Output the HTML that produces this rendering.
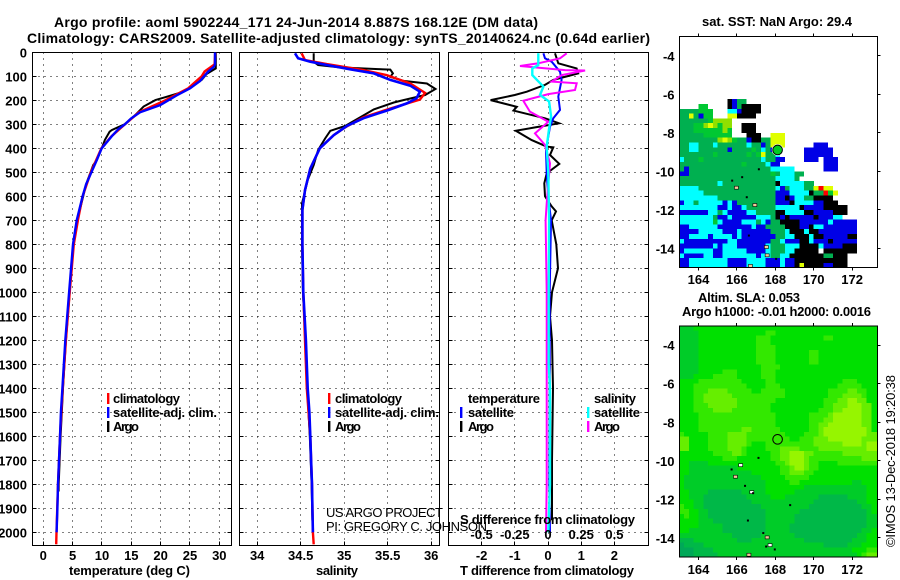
<!DOCTYPE html>
<html><head><meta charset="utf-8">
<style>
html,body{margin:0;padding:0;background:#fff}
svg{display:block}
text{font-family:"Liberation Sans",sans-serif;font-weight:bold;fill:#000}
.thin{font-weight:normal}
</style></head>
<body>
<svg id="fig" width="900" height="580" viewBox="0 0 900 580" xmlns="http://www.w3.org/2000/svg">
<rect width="900" height="580" fill="#fff"/>
<text x="54" y="27" font-size="14" textLength="484">Argo profile: aoml 5902244_171 24-Jun-2014 8.887S 168.12E (DM data)</text>
<text x="27" y="43" font-size="14" textLength="623">Climatology: CARS2009. Satellite-adjusted climatology: synTS_20140624.nc (0.64d earlier)</text>
<g id="plots"></g>
<g id="maps"></g>

<text x="69" y="575" font-size="13" textLength="121">temperature (deg C)</text>
<text x="316" y="575" font-size="13" textLength="42">salinity</text>
<text x="460" y="575" font-size="13" textLength="174">T difference from climatology</text>
<text x="460" y="524" font-size="13" textLength="175">S difference from climatology</text>

<g>
<rect x="107" y="393" width="2.4" height="11" fill="#f00"/>
<rect x="107" y="407" width="2.4" height="11" fill="#00f"/>
<rect x="107" y="421" width="2.4" height="11" fill="#000"/>
<text x="113" y="403" font-size="13" textLength="67">climatology</text>
<text x="113" y="417" font-size="13" textLength="104">satellite-adj. clim.</text>
<text x="113" y="431" font-size="13" textLength="26">Argo</text>
</g>
<g>
<rect x="328" y="393" width="2.4" height="11" fill="#f00"/>
<rect x="328" y="407" width="2.4" height="11" fill="#00f"/>
<rect x="328" y="421" width="2.4" height="11" fill="#000"/>
<text x="335" y="403" font-size="13" textLength="67">climatology</text>
<text x="335" y="417" font-size="13" textLength="104">satellite-adj. clim.</text>
<text x="335" y="431" font-size="13" textLength="26">Argo</text>
</g>
<g>
<text x="468" y="403" font-size="13" textLength="72">temperature</text>
<rect x="460" y="407" width="2.4" height="11" fill="#00f"/>
<text x="468" y="417" font-size="13" textLength="46">satellite</text>
<rect x="460" y="421" width="2.4" height="11" fill="#000"/>
<text x="468" y="431" font-size="13" textLength="26">Argo</text>
<text x="594" y="403" font-size="13" textLength="42">salinity</text>
<rect x="587" y="407" width="2.4" height="11" fill="#0ff"/>
<text x="594" y="417" font-size="13" textLength="46">satellite</text>
<rect x="587" y="421" width="2.4" height="11" fill="#f0f"/>
<text x="594" y="431" font-size="13" textLength="26">Argo</text>
</g>

<text class="thin" x="326" y="517" font-size="13" textLength="117">US ARGO PROJECT</text>
<text class="thin" x="326" y="531" font-size="13" textLength="161">PI: GREGORY C. JOHNSON</text>

<text x="702" y="26" font-size="13" textLength="150">sat. SST: NaN Argo: 29.4</text>
<text x="698" y="302" font-size="13" textLength="102">Altim. SLA: 0.053</text>
<text x="682" y="316" font-size="13" textLength="189">Argo h1000: -0.01 h2000: 0.0016</text>
<text class="thin" transform="translate(895,547) rotate(-90)" font-size="13" textLength="172">©IMOS 13-Dec-2018 19:20:38</text>
</svg>

<script>
// ---------- profile data (depth in m) ----------
const tempTicks = [0, 5, 10, 15, 20, 25, 30];
const salTicks = [34, 34.5, 35, 35.5, 36];
const salTickLabels = ['34', '34.5', '35', '35.5', '36'];
const diffTicks = [-2, -1, 0, 1, 2];
const sDiffTicks = [-0.5, -0.25, 0, 0.25, 0.5];
const sDiffTickLabels = ['-0.5', '-0.25', '0', '0.25', '0.5'];
const depthTicks = [0,100,200,300,400,500,600,700,800,900,1000,1100,1200,1300,1400,1500,1600,1700,1800,1900,2000];

const climTempDepth = [0,50,80,100,150,200,250,300,350,400,500,600,700,800,1000,1200,1400,1600,1800,2000,2050];
const climTemp = [29.3,29.2,27.5,27,24.7,20.8,16.3,13.9,11.6,9.9,8.1,6.7,5.9,5.2,4.5,3.85,3.3,2.85,2.5,2.25,2.2];
const satTempDepth = [0,50,60,80,100,120,150,180,200,220,250,275,300,320,350,400,450,500,550,600,700,800,1000,1200,1400,1500,1600,1700,1800,1900,2000];
const satTemp = [29.26,29.26,29.1,28.1,27.4,26.7,25,22.7,21.3,19.9,16.5,15,13.9,12.8,11.65,9.95,9.1,8.2,7.3,6.7,5.7,5.06,4.4,3.75,3.25,3,2.85,2.67,2.5,2.4,2.27];
const argoTempDepth = [0,67,90,115,143,164,189,199,226,261,299,324,331,365,400,450,470,550,600,700,800,1000,1200,1400,1600,1800,1830];
const argoTemp = [29.4,29.4,27.85,27,25.3,23.9,20.5,19.1,17.1,15.7,13.9,11.65,11.3,10.5,9.95,9.1,8.5,7.3,6.8,5.8,5.15,4.5,3.85,3.35,2.95,2.62,2.6];

const climSalDepth = [4,32,49,74,95,130,169,197,234,271,313,345,400,484,574,657,700,800,1000,1200,1400,1600,1800,2000,2050];
const climSal = [34.51,34.55,34.8,35.22,35.49,35.76,35.93,35.87,35.53,35.22,35.01,34.88,34.72,34.61,34.55,34.52,34.52,34.52,34.53,34.55,34.57,34.61,34.63,34.64,34.65];
const satSalDepth = [4,25,39,53,71,88,115,139,164,192,213,243,275,307,345,400,484,574,657,700,800,1000,1200,1400,1500,1600,1700,1800,1900,2000];
const satSal = [34.435,34.47,34.61,34.8,35.07,35.34,35.53,35.76,35.87,35.83,35.72,35.49,35.22,35.03,34.88,34.72,34.61,34.55,34.52,34.52,34.52,34.53,34.56,34.58,34.6,34.61,34.62,34.63,34.634,34.64];
const argoSalDepth = [4,39,53,63,70,72,88,102,119,130,153,178,199,209,238,280,307,327,359,407,470,532,630,700,800,1000,1200,1400,1600,1800,1950];
const argoSal = [34.65,34.65,34.7,34.95,35.39,35.53,35.56,35.53,35.68,35.95,36.05,35.93,35.68,35.57,35.34,35.14,35.01,34.84,34.78,34.7,34.65,34.58,34.515,34.515,34.515,34.525,34.555,34.575,34.605,34.625,34.635];

const satDiffTDepth = [4,25,39,81,115,185,240,275,310,407,504,600,700,1000,1400,1800,2000];
const satDiffT = [-0.14,-0.09,0.11,0.36,0.41,0.31,0.36,0.16,0.06,-0.06,-0.04,0.01,0.09,0.05,0.05,0.04,0.06];
const argoDiffTDepth = [4,46,67,88,115,136,164,178,199,227,243,275,296,313,327,366,393,396,428,465,504,546,600,642,663,700,800,900,1000,1100,1200,1400,1700,1950];
const argoDiffT = [0.21,0.31,0.86,0.91,0.16,-0.09,-0.64,-1,-1.73,-0.94,-1.04,-0.09,0.33,-0.39,-0.97,-0.49,-0.04,0.16,0.06,0.34,-0.04,-0.11,-0.09,0.11,0.24,0.11,0.25,0.3,0.12,0.06,0.12,0.15,0.12,0.12];
const argoDiffSDepth = [4,25,46,57,74,76,95,122,129,157,174,202,247,289,338,386,463,629,700,1000,1400,1800,2000];
const argoDiffS = [0.141,0.09,-0.073,-0.211,0.128,0.279,0.103,0.028,0.216,0.203,0.0025,-0.186,-0.136,0.0025,-0.098,-0.023,0.015,-0.01,-0.018,-0.01,-0.01,-0.01,-0.015];
const satDiffSDepth = [4,53,67,95,143,178,205,268,317,393,504,700,1000,1300,1400,1800,2000];
const satDiffS = [-0.073,-0.073,-0.118,-0.118,-0.035,-0.06,0.008,0.023,0.008,-0.01,0.0025,0.008,0.005,0.005,0.015,0.015,0.0025];

// ---------- map data ----------
const lonTicks = [164, 166, 168, 170, 172];
const latTicks = [-4, -6, -8, -10, -12, -14];
const floatLon = 168.12;
const floatLat = -8.887;
// one string per 0.25-degree latitude row, north to south; one character per 0.25-degree column
const sstRows = [
"","","","","","","","","","","","","",
"          kbtt",
"    gg    kbtkkkk",
"ttttggg   ccbkkkk",
"ttytbgg   yykkkk",
"ttttttgaaaa",
"tttggayagaa  kkk",
"tttggggggag  kkk",
"tttttgggggg   kkk  yyy",
"ttttttttayagttbkkttyyy",
"ttcctttcttttttcttbtyyy      bbb",
"ttccttttttbttttgtctbc     bbbbbb",
"tttttttgttttttgtgyttc     bbbbbb",
"ctttgttttttttttttcttbb    bbb bbb",
"tttttttttttttgttttcbb         bbb",
"tbtttttttttttttttttccccc      bbb",
"bbtttttttttttttttttgtccctt",
"ttttttttttttttttttttcccct",
"ttttttttctttttttttttkccccctt",
"ccccttttttttttttttttcbtcccttyryy",
"ccccctttttttttttttttbbbcccckttrgy",
"cccccccctttttttttttt" + "bbkbccttkkkk",
"bcctcccccbcbtttttttt" + "bbbkccccbbkkk",
"ccccccccbbcbbctttttt" + "ccccckbbbbkkkkk",
"bbbbbbcctcbbbbcctttt" + "kkcccckkbbbbkkk",
"ccccccctbbcbbbbbccct" + "kbkbbbbbkbbbcc",
"cccccccgcbbbbccctcbt" + "tkkkkbbbbbbcbbbbb",
"bbccccccbbbbbbbcbbtt" + "ttkkkbbkccbbbbbbb",
"bbbbcccccbbbcbbbbbbt" + "ttckkkckkbbbbbbbb",
"bbccccbccccbcbbbbbbb" + "ttcckkkckkbbbbbkk",
"cbbbbbbbbbccbbbbbbbt" + "tcbbbkkcbbbkbbbbb",
"bbbbbbbcbcccbbbbbbct" + "ttccckkkkcbbbbkkk",
"bccccccbbcccccbbbbct" + "ttcckkkkk kkkkkkk",
"cbbbbccbbcccccccbcct" + "tcckkkkkkkttkkk",
"bbccccccccbbbbccccbb" + "bcbbkkkkkkkkkkk",
"bbccccccccbbbbccccbb" + "bcbbkykkkkbbkkk"
];
const slaRows = [
"22233333333333333333333333333333333333333",
"22223333333333333344333333333333333333333",
"22223333333333334443333333333344333333333",
"22223333333333334443333333333333333333333",
"22223333333333334444333333333333333333333",
"22223333333333334444333333344333333333333",
"22223333333333334444333333344333333333333",
"22223333333333334444333333344333333333333",
"22223333333333333444433333333333333333333",
"22223333344433333444333333333333333333333",
"22233334444433333444333333333333333333333",
"33334444444443333344333333333333334443333",
"33344444444444333344433333333333344444333",
"33344455554444433444443333333334444554433",
"33344555555444444444443333333334445555433",
"33344555555544444444333333333344455665533",
"33344455555544444443333333333344555666553",
"33344445555444444443333333333444556666553",
"33334444444444444444333333344445666666553",
"33334444444444444444333333344455666666553",
"33334444444444444444333333344556666666553",
"33334444444445544444433333344566666666653",
"43333344445555444444443333444566666666655",
"55333344445555444444444334445556666666555",
"55333344445555433344444444445555556666566",
"55333344445554333344455554444555555555566",
"33333334444554333334455666554444445555555",
"33333333344433333334455666544444444444555",
"33222233333333333333445666544333344444444",
"33222222222233333333344566544333333333333",
"33222222222222233333344555443333333333333",
"32222222222222222333334444433333333333333",
"32222222222222222233333443333333333322333",
"32222222222222222233333333222222222222233",
"33222211111112222233333322222222222222233",
"33222111111111222223332222222111111222233",
"33322111111111122222222222221111111112233",
"43322111111111111222222222211111111111223",
"44332211111111111122222221111111111111123",
"34332211111111111122222211111111111111122",
"33332221111111111122222211111111111111122",
"33332222211111111122222111111111111111122",
"33222222211111111122222111111111111111223",
"22222222222111111222222211111111111112233",
"11122222222211122222222222111111111122233",
"01111222222222222222222222222211111222333",
"00011112222222222222222222222222222233344",
"00011111222222222222222222222222222223455"
];
const sstIslandLon = [165.95,166.54,166.91,166.3,167.17,165.78,166.65,167.51,167.55,166.68,168.07];
const sstIslandLat = [-10.82,-11.34,-11.72,-10.3,-9.89,-10.48,-13.33,-13.9,-14.33,-14.88,-14.54];
const sstIslandKind = ['tan','k','tan','k','k','k','k','tan','tan','tan','k'];
const slaIslandLon = [166.17,165.9,166.45,166.75,166.87,167.15,165.75,166.6,167.4,167.55,167.7,167.55,168.0,168.8,166.6];
const slaIslandLat = [-10.2,-10.8,-11.3,-11.6,-11.68,-9.85,-10.45,-13.1,-13.75,-13.95,-14.35,-14.45,-14.6,-12.3,-14.85];
const slaIslandKind = ['white','tan','k','white','k','k','k','k','k','tan','white','k','k','k','tan'];

// ---------- drawing ----------
const NS = 'http://www.w3.org/2000/svg';
const plots = document.getElementById('plots');
const maps = document.getElementById('maps');
function make(parent, tag, attrs, txt) {
  const el = document.createElementNS(NS, tag);
  for (const k in attrs) el.setAttribute(k, attrs[k]);
  if (txt !== undefined) el.textContent = txt;
  parent.appendChild(el);
  return el;
}
const TOP = 52.5, BOTTOM = 545.5;
const yDepth = d => 52.3 + 0.24 * d;
const xTemp = v => 43.3 + 5.867 * v;
const xSal = v => 300.7 + 87 * (v - 34.5);
const xDiffT = v => 548 + 33.2 * v;
const xDiffS = v => 548 + 132.8 * v;

function snap(v) { return Math.round(v - 0.5) + 0.5; }

function panelFrame(name, left, right, xTickVals, xFn, labels, labelY, clipId) {
  const g = make(plots, 'g', {});
  
  
  const clip = make(g, 'clipPath', {id: clipId});
  make(clip, 'rect', {x: left, y: TOP, width: right - left, height: BOTTOM - TOP});
  depthTicks.forEach(d => {
    const line = make(g, 'line', {x1: left, x2: right, y1: snap(yDepth(d)), y2: snap(yDepth(d)), stroke: '#000', 'stroke-width': 1, 'stroke-dasharray': '1 5', 'shape-rendering': 'crispEdges'});
    
    
    const t1 = make(g, 'line', {x1: left, x2: left + 4, y1: snap(yDepth(d)), y2: snap(yDepth(d)), stroke: '#000', 'shape-rendering': 'crispEdges'});
    
    
    const t2 = make(g, 'line', {x1: right - 4, x2: right, y1: snap(yDepth(d)), y2: snap(yDepth(d)), stroke: '#000', 'shape-rendering': 'crispEdges'});
    
    
  });
  xTickVals.forEach((v, i) => {
    const x = snap(xFn(v));
    const line = make(g, 'line', {x1: x, x2: x, y1: TOP, y2: BOTTOM, stroke: '#000', 'stroke-width': 1, 'stroke-dasharray': '1 5', 'shape-rendering': 'crispEdges'});
    
    
    const tick = make(g, 'line', {x1: x, x2: x, y1: BOTTOM - 4, y2: BOTTOM, stroke: '#000', 'shape-rendering': 'crispEdges'});
    
    
    const lab = make(g, 'text', {x: xFn(v), y: labelY, 'text-anchor': 'middle', 'font-size': 13}, labels[i]);
    
    
  });
  const fr = make(g, 'rect', {x: left, y: TOP, width: right - left, height: BOTTOM - TOP, fill: 'none', stroke: '#000', 'stroke-width': 1, 'shape-rendering': 'crispEdges'});
  
  
  return g;
}
function series(g, name, depth, vals, xFn, color, w, clipId) {
  const pts = vals.map((v, i) => xFn(v).toFixed(1) + ',' + yDepth(depth[i]).toFixed(1)).join(' ');
  const pl = make(g, 'polyline', {points: pts, fill: 'none', stroke: color, 'stroke-width': w, 'stroke-linejoin': 'miter', 'clip-path': 'url(#' + clipId + ')'});
  
  
}

const gT = panelFrame('temperature-panel', 32.5, 231.5, tempTicks, xTemp, tempTicks.map(String), 560, 'clipT');
series(gT, 'temperature-argo-line', argoTempDepth, argoTemp, xTemp, '#000', 2, 'clipT');
series(gT, 'temperature-climatology-line', climTempDepth, climTemp, xTemp, '#f00', 2.4, 'clipT');
series(gT, 'temperature-satellite-line', satTempDepth, satTemp, xTemp, '#00f', 2.4, 'clipT');
depthTicks.forEach(d => {
  const lab = make(gT, 'text', {x: 27, y: yDepth(d) + 5, 'text-anchor': 'end', 'font-size': 13}, String(d));
  
  
});

const gS = panelFrame('salinity-panel', 239.5, 439.5, salTicks, xSal, salTickLabels, 560, 'clipS');
series(gS, 'salinity-argo-line', argoSalDepth, argoSal, xSal, '#000', 2, 'clipS');
series(gS, 'salinity-climatology-line', climSalDepth, climSal, xSal, '#f00', 2.4, 'clipS');
series(gS, 'salinity-satellite-line', satSalDepth, satSal, xSal, '#00f', 2.6, 'clipS');

const gD = panelFrame('difference-panel', 448.5, 648.5, diffTicks, xDiffT, diffTicks.map(String), 560, 'clipD');
series(gD, 'difference-t-argo-line', argoDiffTDepth, argoDiffT, xDiffT, '#000', 2, 'clipD');
series(gD, 'difference-t-satellite-line', satDiffTDepth, satDiffT, xDiffT, '#00f', 2, 'clipD');
series(gD, 'difference-s-argo-line', argoDiffSDepth, argoDiffS, xDiffS, '#f0f', 2, 'clipD');
series(gD, 'difference-s-satellite-line', satDiffSDepth, satDiffS, xDiffS, '#0ff', 2.4, 'clipD');
sDiffTicks.forEach((v, i) => {
  const lab = make(gD, 'text', {x: xDiffS(v), y: 539, 'text-anchor': 'middle', 'font-size': 13}, sDiffTickLabels[i]);
  
  
});

// maps
const xLon = lon => 679.3 + (lon - 163) * 19.2;
const sstColors = {t:'#00b050', g:'#00c832', a:'#90e000', y:'#e0ff00', b:'#0000e6', c:'#00ffff', k:'#000000', r:'#ff0000'};
const slaColors = {'0':'#00a858', '1':'#00b848', '2':'#00cc28', '3':'#00e000', '4':'#33e800', '5':'#66ee00', '6':'#96f500'};
const islandColors = {k:'#000', tan:'#f5c79a', white:'#fff'};
function drawMap(name, rows, colors, topPx, isoLon, isoLat, isoKind, labelY, filled) {
  const yLat = lat => topPx + (-3 - lat) * 19.27;
  const bottomPx = yLat(-15);
  const g = make(maps, 'g', {});
  
  
  const left = 679.5, right = 877.5;
  const cid = name + '-clip';
  const clip = make(g, 'clipPath', {id: cid});
  make(clip, 'rect', {x: left, y: topPx, width: right - left, height: bottomPx - topPx});
  const cells = make(g, 'g', {'clip-path': 'url(#' + cid + ')', 'shape-rendering': 'crispEdges'});
  
  
  rows.forEach((row, r) => {
    for (let c = 0; c < 42; c++) {
      const ch = row[c] !== undefined ? row[c] : (rows === slaRows ? row[row.length - 1] : ' ');
      if (!colors[ch]) continue;
      const lon = 163 + 0.25 * c, lat = -3 - 0.25 * r;
      const cell = make(cells, 'rect', {x: xLon(lon).toFixed(2), y: yLat(lat).toFixed(2), width: 4.9, height: 4.92, fill: colors[ch]});
      
      
    }
  });
  isoLon.forEach((lon, i) => {
    const isl = make(g, 'rect', {x: xLon(lon) - 1.5, y: yLat(isoLat[i]) - 1, width: isoKind[i] === 'k' ? 2 : 4, height: isoKind[i] === 'k' ? 2 : 3, fill: islandColors[isoKind[i]], stroke: isoKind[i] === 'k' ? 'none' : '#000', 'stroke-width': 0.6});
    
    
  });
  const fr = make(g, 'rect', {x: left, y: topPx, width: right - left, height: bottomPx - topPx, fill: 'none', stroke: '#000', 'shape-rendering': 'crispEdges'});
  
  
  lonTicks.forEach(lon => {
    const x = snap(xLon(lon));
    const t1 = make(g, 'line', {x1: x, x2: x, y1: topPx - 3, y2: topPx, stroke: '#000', 'shape-rendering': 'crispEdges'});
    
    
    const t2 = make(g, 'line', {x1: x, x2: x, y1: bottomPx, y2: bottomPx + 3, stroke: '#000', 'shape-rendering': 'crispEdges'});
    
    
    const lab = make(g, 'text', {x: xLon(lon), y: labelY, 'text-anchor': 'middle', 'font-size': 13}, String(lon));
    
    
  });
  latTicks.forEach(lat => {
    const y = snap(yLat(lat));
    const t = make(g, 'line', {x1: right, x2: right + 3, y1: y, y2: y, stroke: '#000', 'shape-rendering': 'crispEdges'});
    
    
    const lab = make(g, 'text', {x: 674.5, y: yLat(lat) + 5, 'text-anchor': 'end', 'font-size': 13}, String(lat));
    
    
  });
  if (filled) {
    const halo = make(g, 'circle', {cx: xLon(floatLon), cy: yLat(floatLat), r: 5.8, fill: '#fff'});
    
    
  }
  const mark = make(g, 'circle', {cx: xLon(floatLon), cy: yLat(floatLat), r: 4.8, fill: filled ? '#00cc22' : 'none', stroke: '#000', 'stroke-width': 1});
  
  
}
drawMap('sst-map', sstRows, sstColors, 36.5, sstIslandLon, sstIslandLat, sstIslandKind, 284, true);
drawMap('sla-map', slaRows, slaColors, 325.9, slaIslandLon, slaIslandLat, slaIslandKind, 574, false);
</script>
</body></html>
